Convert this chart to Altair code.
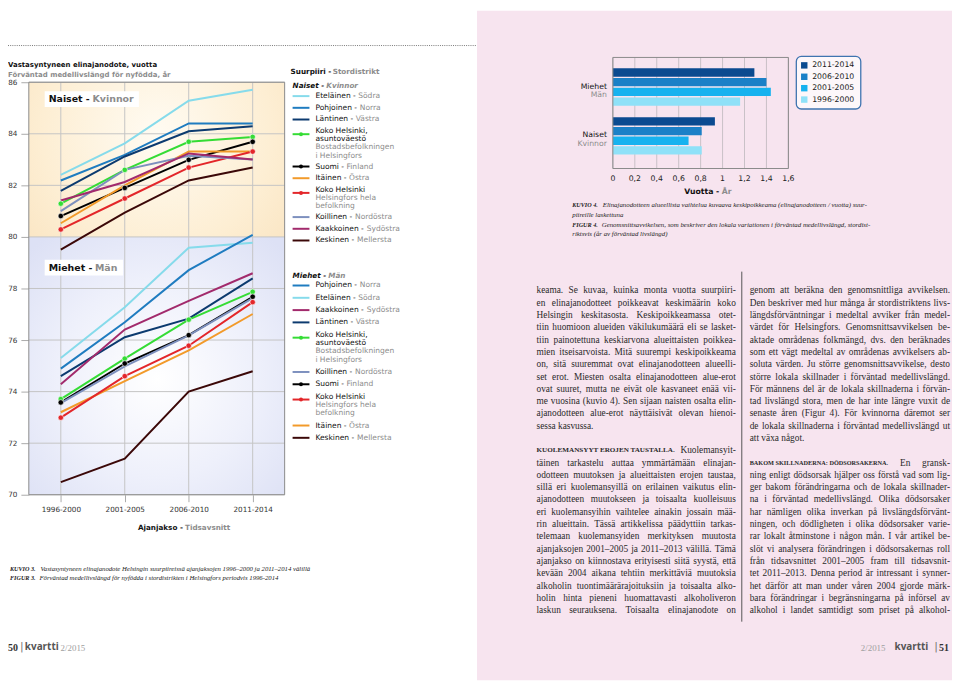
import altair as alt
import pandas as pd

# ---------------- data ----------------
periods = ["1996-2000", "2001-2005", "2006-2010", "2011-2014"]
regions = ["Eteläinen", "Pohjoinen", "Läntinen", "Koko Helsinki, asuntoväestö",
           "Suomi", "Itäinen", "Koko Helsinki", "Koillinen", "Kaakkoinen", "Keskinen"]
regions_sv = ["Södra", "Norra", "Västra", "Bostadsbefolkningen|i Helsingfors",
              "Finland", "Östra", "Helsingfors hela|befolkning", "Nordöstra", "Sydöstra", "Mellersta"]
regions_fi_lines = ["Eteläinen", "Pohjoinen", "Läntinen", "Koko Helsinki,|asuntoväestö",
                    "Suomi", "Itäinen", "Koko Helsinki", "Koillinen", "Kaakkoinen", "Keskinen"]
marked_regions = ["Koko Helsinki, asuntoväestö", "Suomi", "Koko Helsinki"]

women_etelainen = [82.41, 83.63, 85.28, 85.71]
women_pohjoinen = [82.19, 83.18, 84.40, 84.40]
women_lantinen = [81.79, 83.12, 84.10, 84.29]
women_koko_asunto = [81.29, 82.60, 83.69, 83.88]
women_suomi = [80.81, 81.90, 82.99, 83.69]
women_itainen = [80.53, 82.00, 83.31, 83.31]
women_koko = [80.29, 81.49, 82.69, 83.31]
women_koillinen = [81.00, 82.60, 83.15, 83.00]
women_kaakkoinen = [81.41, 82.13, 83.24, 83.00]
women_keskinen = [79.51, 80.94, 82.19, 82.69]

men_etelainen = [75.30, 77.27, 79.58, 79.77]
men_pohjoinen = [74.89, 76.69, 78.71, 80.08]
men_lantinen = [74.60, 76.11, 76.83, 78.39]
men_koko_asunto = [73.71, 75.28, 76.79, 77.87]
men_suomi = [73.58, 75.09, 76.19, 77.68]
men_itainen = [73.20, 74.41, 75.60, 77.01]
men_koko = [72.99, 74.60, 75.78, 77.47]
men_koillinen = [73.55, 74.98, 76.18, 77.63]
men_kaakkoinen = [74.29, 76.41, 77.52, 78.59]
men_keskinen = [70.49, 71.40, 74.00, 74.79]

women_legend_order = ["Eteläinen", "Pohjoinen", "Läntinen", "Koko Helsinki, asuntoväestö", "Suomi",
                      "Itäinen", "Koko Helsinki", "Koillinen", "Kaakkoinen", "Keskinen"]
men_legend_order = ["Pohjoinen", "Eteläinen", "Kaakkoinen", "Läntinen", "Koko Helsinki, asuntoväestö",
                    "Koillinen", "Suomi", "Koko Helsinki", "Itäinen", "Keskinen"]

y_ticks = [70, 72, 74, 76, 78, 80, 82, 84, 86]

bar_periods = ["2011-2014", "2006-2010", "2001-2005", "1996-2000"]
bar_groups = ["Miehet", "Naiset"]
bar_groups_sv = ["Män", "Kvinnor"]
men_deviation = [1.29, 1.40, 1.44, 1.16]
women_deviation = [0.93, 0.81, 0.69, 0.81]
bar_ticks = [0, 0.2, 0.4, 0.6, 0.8, 1.0, 1.2, 1.4, 1.6]
bar_tick_labels = ["0", "0,2", "0,4", "0,6", "0,8", "1", "1,2", "1,4", "1,6"]

left_par1 = [
    "keama. Se kuvaa, kuinka monta vuotta suurpiiri-",
    "en elinajanodotteet poikkeavat keskimäärin koko",
    "Helsingin keskitasosta. Keskipoikkeamassa otet-",
    "tiin huomioon alueiden väkilukumäärä eli se lasket-",
    "tiin painotettuna keskiarvona alueittaisten poikkea-",
    "mien itseisarvoista. Mitä suurempi keskipoikkeama",
    "on, sitä suuremmat ovat elinajanodotteen alueelli-",
    "set erot. Miesten osalta elinajanodotteen alue-erot",
    "ovat suuret, mutta ne eivät ole kasvaneet enää vii-",
    "me vuosina (kuvio 4). Sen sijaan naisten osalta elin-",
    "ajanodotteen alue-erot näyttäisivät olevan hienoi-",
    "sessa kasvussa.",
]
left_head2 = "KUOLEMANSYYT EROJEN TAUSTALLA."
left_par2 = [
    "Kuolemansyit-",
    "täinen tarkastelu auttaa ymmärtämään elinajan-",
    "odotteen muutoksen ja alueittaisten erojen taustaa,",
    "sillä eri kuolemansyillä on erilainen vaikutus elin-",
    "ajanodotteen muutokseen ja toisaalta kuolleisuus",
    "eri kuolemansyihin vaihtelee ainakin jossain mää-",
    "rin alueittain. Tässä artikkelissa päädyttiin tarkas-",
    "telemaan kuolemansyiden merkityksen muutosta",
    "ajanjaksojen 2001–2005 ja 2011–2013 välillä. Tämä",
    "ajanjakso on kiinnostava erityisesti siitä syystä, että",
    "kevään 2004 aikana tehtiin merkittäviä muutoksia",
    "alkoholin tuontimäärärajoituksiin ja toisaalta alko-",
    "holin hinta pieneni huomattavasti alkoholiveron",
    "laskun seurauksena. Toisaalta elinajanodote on",
]
right_par1 = [
    "genom att beräkna den genomsnittliga avvikelsen.",
    "Den beskriver med hur många år stordistriktens livs-",
    "längdsförväntningar i medeltal avviker från medel-",
    "värdet för Helsingfors. Genomsnittsavvikelsen be-",
    "aktade områdenas folkmängd, dvs. den beräknades",
    "som ett vägt medeltal av områdenas avvikelsers ab-",
    "soluta värden. Ju större genomsnittsavvikelse, desto",
    "större lokala skillnader i förväntad medellivslängd.",
    "För männens del är de lokala skillnaderna i förvän-",
    "tad livslängd stora, men de har inte längre vuxit de",
    "senaste åren (Figur 4). För kvinnorna däremot ser",
    "de lokala skillnaderna i förväntad medellivslängd ut",
    "att växa något.",
]
right_head2 = "BAKOM SKILLNADERNA: DÖDSORSAKERNA."
right_par2 = [
    "En gransk-",
    "ning enligt dödsorsak hjälper oss förstå vad som lig-",
    "ger bakom förändringarna och de lokala skillnader-",
    "na i förväntad medellivslängd. Olika dödsorsaker",
    "har nämligen olika inverkan på livslängdsförvänt-",
    "ningen, och dödligheten i olika dödsorsaker varie-",
    "rar lokalt åtminstone i någon mån. I vår artikel be-",
    "slöt vi analysera förändringen i dödsorsakernas roll",
    "från tidsavsnittet 2001–2005 fram till tidsavsnit-",
    "tet 2011–2013. Denna period är intressant i synner-",
    "het därför att man under våren 2004 gjorde märk-",
    "bara förändringar i begränsningarna på införsel av",
    "alkohol i landet samtidigt som priset på alkohol-",
]
caption3 = ["Vastasyntyneen elinajanodote Helsingin suurpiireissä ajanjaksojen 1996–2000 ja 2011–2014 välillä",
            "Förväntad medellivslängd för nyfödda i stordistrikten i Helsingfors periodvis 1996-2014"]
caption4 = ["Elinajanodotteen alueellista vaihtelua kuvaava keskipoikkeama (elinajanodotteen / vuotta) suur-",
            "piireille laskettuna",
            "Genomsnittsavvikelsen, som beskriver den lokala variationen i förväntad medellivslängd, stordist-",
            "riktsvis (år av förväntad livslängd)"]

# ---------------- styles / layout ----------------
OX, OY = 8, 8
W, H = 952, 675
SANS = "DejaVu Sans"
SERIF = "Liberation Serif"
BLACK = "#111111"
GRAY = "#8c8c8c"
PINK = "#f7e4ef"

region_colors = ["#86dbeb", "#1f7cc0", "#0c3a6f", "#35dc35", "#000000",
                 "#f29a2a", "#e3262a", "#7d90be", "#a22a6c", "#3b0808"]
bar_colors = ["#0b4a90", "#1b80c7", "#17b2ef", "#8fe1f8"]

XID = alt.Scale(domain=[0, 960], range=[-OX, 960 - OX], nice=False, zero=False)
YID = alt.Scale(domain=[0, 683], range=[-OY, 683 - OY], nice=False, zero=False)

LX0, LX1, LY0, LY1 = 29, 287, 80, 496      # line chart frame (page px)
X_LINE = alt.Scale(type="point", domain=periods, range=[LX0 - OX, LX1 - OX], padding=0.5)
Y_LINE = alt.Scale(domain=[70, 86], range=[LY1 - OY, LY0 - OY], nice=False, zero=False)
COLOR_REG = alt.Scale(domain=regions, range=region_colors)

BX0, BX1, BY0, BY1 = 618, 795, 55, 167     # bar chart frame
X_BAR = alt.Scale(domain=[0, 1.6], range=[BX0 - OX, BX1 - OX], nice=False, zero=False)
Y_BAR = alt.Scale(type="band", domain=bar_groups, range=[BY0 - OY, 164 - OY],
                  paddingInner=0.235, paddingOuter=0.223)
COLOR_BAR = alt.Scale(domain=bar_periods, range=bar_colors)

one = pd.DataFrame({"a": [0]})

# ---------------- text metrics ----------------
DV = {' ': 651, '-': 739, ',': 651, '.': 651, '/': 690, '(': 799, ')': 799,
      'A': 1401, 'B': 1405, 'C': 1430, 'D': 1577, 'E': 1294, 'F': 1178, 'G': 1587, 'H': 1540,
      'I': 604, 'J': 604, 'K': 1343, 'L': 1141, 'M': 1767, 'N': 1532, 'O': 1612, 'P': 1235,
      'R': 1423, 'S': 1300, 'T': 1251, 'U': 1499, 'V': 1401, 'W': 2025, 'Y': 1251, 'Ä': 1401,
      'Ö': 1612, 'a': 1255, 'b': 1300, 'c': 1126, 'd': 1300, 'e': 1260, 'f': 721, 'g': 1300,
      'h': 1298, 'i': 569, 'j': 569, 'k': 1186, 'l': 569, 'm': 1995, 'n': 1298, 'o': 1253,
      'p': 1300, 'q': 1300, 'r': 842, 's': 1067, 't': 803, 'u': 1298, 'v': 1212, 'w': 1675,
      'x': 1212, 'y': 1212, 'z': 1075, 'ä': 1255, 'ö': 1253, 'å': 1255}


def dv_w(s, size, bold=False):
    w = sum(DV.get(ch, 1303) for ch in s) / 2048.0 * size
    return w * (1.12 if bold else 1.0)


TM = {' ': .25, 'a': .444, 'b': .5, 'c': .444, 'd': .5, 'e': .444, 'f': .333, 'g': .5, 'h': .5,
      'i': .278, 'j': .278, 'k': .5, 'l': .278, 'm': .778, 'n': .5, 'o': .5, 'p': .5, 'q': .5,
      'r': .333, 's': .389, 't': .278, 'u': .5, 'v': .5, 'w': .722, 'x': .5, 'y': .5, 'z': .444,
      'ä': .444, 'ö': .5, 'å': .444, 'A': .722, 'B': .667, 'C': .667, 'D': .722, 'E': .611,
      'F': .556, 'G': .722, 'H': .722, 'I': .333, 'J': .389, 'K': .722, 'L': .611, 'M': .889,
      'N': .722, 'O': .722, 'P': .556, 'R': .667, 'S': .556, 'T': .611, 'U': .722, 'V': .722,
      'W': .944, 'Y': .722, 'Ä': .722, 'Ö': .722, '.': .25, ',': .25, '-': .333, '–': .5,
      '(': .333, ')': .333, '/': .278, ':': .278}
TMB = {'A': .722, 'B': .667, 'C': .722, 'D': .722, 'E': .667, 'F': .611, 'G': .778, 'H': .778,
       'I': .389, 'J': .5, 'K': .778, 'L': .667, 'M': .944, 'N': .722, 'O': .778, 'P': .611,
       'R': .722, 'S': .556, 'T': .667, 'U': .722, 'V': .722, 'Y': .722, 'Ä': .722, 'Ö': .778,
       ':': .333, '.': .25, ' ': .25}


def tm_w(s, size, bold=False):
    tbl = TMB if bold else TM
    return sum(tbl.get(ch, TM.get(ch, .5)) for ch in s) * size


texts = []


def T(s, x, y, size, color=BLACK, font=SANS, weight="normal", style="normal", align="left"):
    texts.append(dict(text=s, x=x, y=y, size=size, color=color, font=font,
                      weight=weight, style=style, align=align))


def T2(parts, x, y, size, font=SANS, weight="normal", style="normal"):
    for s, c in parts:
        T(s, x, y, size, c, font, weight, style)
        x += dv_w(s, size, weight == "bold")


# ---------------- page decorations ----------------
layers = []
layers.append(alt.Chart(one).mark_rect(color=PINK).encode(
    x=alt.value(481 - OX), x2=alt.value(W), y=alt.value(0), y2=alt.value(H)))
layers.append(alt.Chart(one).mark_rule(color="#777", strokeDash=[1, 1.2], strokeWidth=1).encode(
    x=alt.value(0), x2=alt.value(481 - OX), y=alt.value(43 - OY)))
layers.append(alt.Chart(one).mark_rule(color="#555", strokeWidth=1).encode(
    x=alt.value(748 - OX), y=alt.value(271 - OY), y2=alt.value(624 - OY)))

# ---------------- line chart ----------------
women_series = [women_etelainen, women_pohjoinen, women_lantinen, women_koko_asunto, women_suomi,
                women_itainen, women_koko, women_koillinen, women_kaakkoinen, women_keskinen]
men_series = [men_etelainen, men_pohjoinen, men_lantinen, men_koko_asunto, men_suomi,
              men_itainen, men_koko, men_koillinen, men_kaakkoinen, men_keskinen]
rows = []
for g, series in (("w", women_series), ("m", men_series)):
    for reg, vals in zip(regions, series):
        for p, v in zip(periods, vals):
            rows.append(dict(period=p, value=v, region=reg, series=g + reg))
line_df = pd.DataFrame(rows)

women_bg = alt.RadialGradient(gradient="radial", x1=0.5, y1=0.4, r1=0, x2=0.5, y2=0.4, r2=0.75,
                              stops=[alt.GradientStop(color="#fffbf2", offset=0),
                                     alt.GradientStop(color="#fdeed3", offset=0.6),
                                     alt.GradientStop(color="#f9e2bd", offset=1)])
men_bg = alt.RadialGradient(gradient="radial", x1=0.5, y1=0.55, r1=0, x2=0.5, y2=0.55, r2=0.7,
                            stops=[alt.GradientStop(color="#ffffff", offset=0),
                                   alt.GradientStop(color="#eef0fb", offset=0.55),
                                   alt.GradientStop(color="#dde1f5", offset=1)])
layers.append(alt.Chart(one).mark_rect(fill=women_bg).encode(
    x=alt.value(LX0 - OX), x2=alt.value(LX1 - OX),
    y=alt.Y(datum=80, scale=Y_LINE, axis=None), y2=alt.Y2(datum=86)))
layers.append(alt.Chart(one).mark_rect(fill=men_bg).encode(
    x=alt.value(LX0 - OX), x2=alt.value(LX1 - OX),
    y=alt.Y(datum=70, scale=Y_LINE, axis=None), y2=alt.Y2(datum=80)))

layers.append(alt.Chart(pd.DataFrame({"v": y_ticks})).mark_rule(color="#c4c4c4", strokeWidth=1).encode(
    y=alt.Y("v:Q", scale=Y_LINE, axis=None), x=alt.value(LX0 - OX), x2=alt.value(LX1 - OX)))
layers.append(alt.Chart(pd.DataFrame({"p": periods})).mark_rule(color="#c4c4c4", strokeWidth=1).encode(
    x=alt.X("p:O", scale=X_LINE, axis=None), y=alt.value(LY0 - OY), y2=alt.value(LY1 - OY)))

# label boxes
layers.append(alt.Chart(one).mark_rect(color="white").encode(
    x=alt.value(45 - OX), x2=alt.value(140 - OX), y=alt.value(89 - OY), y2=alt.value(105 - OY)))
layers.append(alt.Chart(one).mark_rect(color="white").encode(
    x=alt.value(45 - OX), x2=alt.value(124 - OX), y=alt.value(259 - OY), y2=alt.value(275 - OY)))

layers.append(alt.Chart(line_df).mark_line(strokeWidth=2).encode(
    x=alt.X("period:O", scale=X_LINE,
            axis=alt.Axis(orient="bottom", offset=-(H - (LY1 - OY)), grid=False, domain=False,
                          tickSize=7, tickColor="#aaaaaa", labelAngle=0, labelFont=SANS,
                          labelFontSize=7.3, labelColor="#333333", labelPadding=4, title=None)),
    y=alt.Y("value:Q", scale=Y_LINE,
            axis=alt.Axis(orient="left", offset=-(LX0 - OX), values=y_ticks, grid=False, domain=False,
                          tickSize=8, tickColor="#aaaaaa", labelFont=SANS, labelFontSize=7.3,
                          labelColor="#333333", labelPadding=4, title=None)),
    color=alt.Color("region:N", scale=COLOR_REG, legend=None),
    detail="series:N"))
layers.append(alt.Chart(line_df[line_df.region.isin(marked_regions)]).mark_circle(
    size=30, opacity=1, stroke="white", strokeWidth=0.6).encode(
    x=alt.X("period:O", scale=X_LINE, axis=None),
    y=alt.Y("value:Q", scale=Y_LINE, axis=None),
    color=alt.Color("region:N", scale=COLOR_REG, legend=None)))
layers.append(alt.Chart(one).mark_rect(fillOpacity=0, stroke="#8a8a8a", strokeWidth=1).encode(
    x=alt.value(LX0 - OX), x2=alt.value(LX1 - OX), y=alt.value(LY0 - OY), y2=alt.value(LY1 - OY)))

T("Vastasyntyneen elinajanodote, vuotta", 8, 63, 7, BLACK, SANS, "bold")
T("Förväntad medellivslängd för nyfödda, år", 8, 72.5, 7, GRAY, SANS, "bold")
T2([("Naiset - ", BLACK), ("Kvinnor", GRAY)], 49, 97, 9.5, SANS, "bold")
T2([("Miehet - ", BLACK), ("Män", GRAY)], 49, 267, 9.5, SANS, "bold")
T2([("Ajanjakso - ", BLACK), ("Tidsavsnitt", GRAY)], 139, 530, 7.3, SANS, "bold")

# ---------------- legend of line chart ----------------
T2([("Suurpiiri - ", BLACK), ("Stordistrikt", GRAY)], 293, 70, 7.3, SANS, "bold")
T2([("Naiset - ", BLACK), ("Kvinnor", GRAY)], 295, 84, 7.3, SANS, "bold", "italic")
T2([("Miehet - ", BLACK), ("Män", GRAY)], 295, 275, 7.3, SANS, "bold", "italic")

legend_rows = []


def legend_block(order, y, step, lh, after_multi):
    for reg in order:
        i = regions.index(reg)
        fi = regions_fi_lines[i].split("|")
        sv = regions_sv[i].split("|")
        if len(fi) == 1 and len(sv) == 1:
            T2([(fi[0] + " - ", BLACK), (sv[0], GRAY)], 318, y, 7.6)
            legend_rows.append(dict(region=reg, y=y))
            y += step
        else:
            yy = y
            for s in fi:
                T(s, 318, yy, 7.6, BLACK)
                yy += lh
            for s in sv:
                T(s, 318, yy, 7.6, GRAY)
                yy += lh
            legend_rows.append(dict(region=reg, y=y + 3))
            y = yy - lh + after_multi


legend_block(women_legend_order, 94, 11.8, 8.2, 11.0)
legend_block(men_legend_order, 285, 12.4, 8.4, 12.4)
leg_df = pd.DataFrame(legend_rows)
layers.append(alt.Chart(leg_df).mark_rule(strokeWidth=2).encode(
    x=alt.value(295 - OX), x2=alt.value(312 - OX),
    y=alt.Y("y:Q", scale=YID, axis=None),
    color=alt.Color("region:N", scale=COLOR_REG, legend=None)))
layers.append(alt.Chart(leg_df[leg_df.region.isin(marked_regions)]).mark_circle(size=16, opacity=1).encode(
    x=alt.value(303.5 - OX),
    y=alt.Y("y:Q", scale=YID, axis=None),
    color=alt.Color("region:N", scale=COLOR_REG, legend=None)))

# captions figure 3
T("KUVIO 3.", 10, 571, 6.2, "#222", SERIF, "bold", "italic")
T(caption3[0], 10 + tm_w("KUVIO 3. ", 6.2, True) + 2, 571, 6.8, "#222", SERIF, "normal", "italic")
T("FIGUR 3.", 10, 579.5, 6.2, "#222", SERIF, "bold", "italic")
T(caption3[1], 10 + tm_w("FIGUR 3. ", 6.2, True) + 2, 579.5, 6.8, "#222", SERIF, "normal", "italic")

# ---------------- bar chart ----------------
bar_df = pd.DataFrame({
    "group": [bar_groups[0]] * 4 + [bar_groups[1]] * 4,
    "period": bar_periods * 2,
    "value": men_deviation + women_deviation,
})
layers.append(alt.Chart(pd.DataFrame({"t": bar_ticks})).mark_rule(color="#c8c0c6", strokeWidth=1).encode(
    x=alt.X("t:Q", scale=X_BAR, axis=None), y=alt.value(BY0 - OY), y2=alt.value(BY1 - OY)))
layers.append(alt.Chart(bar_df).mark_bar().encode(
    x=alt.X("value:Q", scale=X_BAR, axis=None),
    y=alt.Y("group:N", scale=Y_BAR, axis=None),
    yOffset=alt.YOffset("period:N", scale=alt.Scale(domain=bar_periods, paddingInner=0.14)),
    color=alt.Color("period:N", scale=COLOR_BAR, legend=None)))
layers.append(alt.Chart(one).mark_rect(fillOpacity=0, stroke="#8a8a8a", strokeWidth=1).encode(
    x=alt.value(BX0 - OX), x2=alt.value(BX1 - OX), y=alt.value(BY0 - OY), y2=alt.value(BY1 - OY)))
layers.append(alt.Chart(pd.DataFrame({"t": bar_ticks, "lab": bar_tick_labels})).mark_text(
    font=SANS, fontSize=7.8, color="#222", baseline="middle").encode(
    x=alt.X("t:Q", scale=X_BAR, axis=None), y=alt.value(178 - OY), text="lab:N"))
cat_df = pd.DataFrame({"group": bar_groups, "sv": bar_groups_sv})
layers.append(alt.Chart(cat_df).mark_text(font=SANS, fontSize=7.8, color=BLACK, align="right",
                                          baseline="middle", dy=-0.5).encode(
    x=alt.value(612 - OX), y=alt.Y("group:N", scale=Y_BAR, axis=None), text="group:N"))
layers.append(alt.Chart(cat_df).mark_text(font=SANS, fontSize=7.8, color=GRAY, align="right",
                                          baseline="middle", dy=8.5).encode(
    x=alt.value(612 - OX), y=alt.Y("group:N", scale=Y_BAR, axis=None), text="sv:N"))
T2([("Vuotta - ", BLACK), ("År", GRAY)], 690, 191, 7.8, SANS, "bold")

# bar legend
layers.append(alt.Chart(one).mark_rect(fill="#fdf7fa", stroke="#3f74b0", strokeWidth=1.3,
                                       cornerRadius=5).encode(
    x=alt.value(803 - OX), x2=alt.value(868 - OX), y=alt.value(54 - OY), y2=alt.value(107 - OY)))
bleg = pd.DataFrame({"period": bar_periods, "y": [63 + 11.5 * i for i in range(4)]})
layers.append(alt.Chart(bleg).mark_square(size=42, opacity=1).encode(
    x=alt.value(811 - OX), y=alt.Y("y:Q", scale=YID, axis=None),
    color=alt.Color("period:N", scale=COLOR_BAR, legend=None)))
for p, yy in zip(bleg.period, bleg.y):
    T(p, 819, yy, 7.8, "#222")

# figure 4 captions
cap_y = [204, 213.5, 224, 233.5]
T("KUVIO 4.", 577, cap_y[0], 6.2, "#222", SERIF, "bold", "italic")
T(caption4[0], 577 + tm_w("KUVIO 4. ", 6.2, True) + 2, cap_y[0], 6.9, "#222", SERIF, "normal", "italic")
T(caption4[1], 577, cap_y[1], 6.9, "#222", SERIF, "normal", "italic")
T("FIGUR 4.", 577, cap_y[2], 6.2, "#222", SERIF, "bold", "italic")
T(caption4[2], 577 + tm_w("FIGUR 4. ", 6.2, True) + 2, cap_y[2], 6.9, "#222", SERIF, "normal", "italic")
T(caption4[3], 577, cap_y[3], 6.9, "#222", SERIF, "normal", "italic")

# ---------------- body text (justified) ----------------
BODY_SIZE = 9.4
BODY_Y0 = 290
BODY_DY = 12.4


def body_line(line, idx, x0, x1, justify, heading=None, head_size=7.0):
    y = BODY_Y0 + idx * BODY_DY
    items = []
    if heading:
        items.append((heading, "caps"))
    items += [(w, "roman") for w in line.split()]
    widths = [tm_w(w, head_size, True) if k == "caps" else tm_w(w, BODY_SIZE) for w, k in items]
    n = len(items)
    if justify and n > 1:
        gap = max((x1 - x0 - sum(widths)) / (n - 1), 1.0)
    else:
        gap = 0.25 * BODY_SIZE
    x = x0
    for j, ((w, k), wd) in enumerate(zip(items, widths)):
        if k == "caps":
            T(w, x, y, head_size, "#2a2a2a", SERIF, "bold")
        elif justify and n > 1 and j == n - 1:
            T(w, x1, y, BODY_SIZE, "#2a2a2a", SERIF, align="right")
        else:
            T(w, x, y, BODY_SIZE, "#2a2a2a", SERIF)
        x += wd + gap


def column(par1, head, par2, x0, x1, head_size):
    for i, ln in enumerate(par1):
        body_line(ln, i, x0, x1, i < len(par1) - 1)
    start = len(par1) + 1
    for i, ln in enumerate(par2):
        body_line(ln, start + i, x0, x1, True, heading=head if i == 0 else None, head_size=head_size)


column(left_par1, left_head2, left_par2, 541, 742, 7.2)
column(right_par1, right_head2, right_par2, 756, 958, 6.3)

# ---------------- footer ----------------
T("50", 8, 651, 10, "#333", SERIF, "bold")
T("|", 20, 650, 11, "#777", SANS)
T("kvartti", 25, 650, 10, "#555", "Open Sans", "bold")
T("2/2015", 61, 651, 9, "#a0a0a0", SERIF)
T("2/2015", 868, 651, 9, "#a0a0a0", SERIF)
T("kvartti", 902, 650, 10, "#555", "Open Sans", "bold")
T("|", 942, 650, 11, "#777", SANS)
T("51", 947, 651, 10, "#333", SERIF, "bold")

# ---------------- text layers ----------------
tdf = pd.DataFrame(texts)
for (font, weight, style, align), g in tdf.groupby(["font", "weight", "style", "align"]):
    layers.append(alt.Chart(g.reset_index(drop=True)).mark_text(
        font=font, fontWeight=weight, fontStyle=style, align=align, baseline="middle").encode(
        x=alt.X("x:Q", scale=XID, axis=None),
        y=alt.Y("y:Q", scale=YID, axis=None),
        text="text:N",
        color=alt.Color("color:N", scale=None),
        size=alt.Size("size:Q", scale=None)))

chart = alt.layer(*layers).resolve_scale(
    x="independent", y="independent", color="independent"
).properties(
    width=W, height=H, padding=0, background="white",
    autosize=alt.AutoSizeParams(type="none")
).configure_view(stroke=None)

chart.save("out.html", embed_options={"renderer": "svg", "actions": False})
